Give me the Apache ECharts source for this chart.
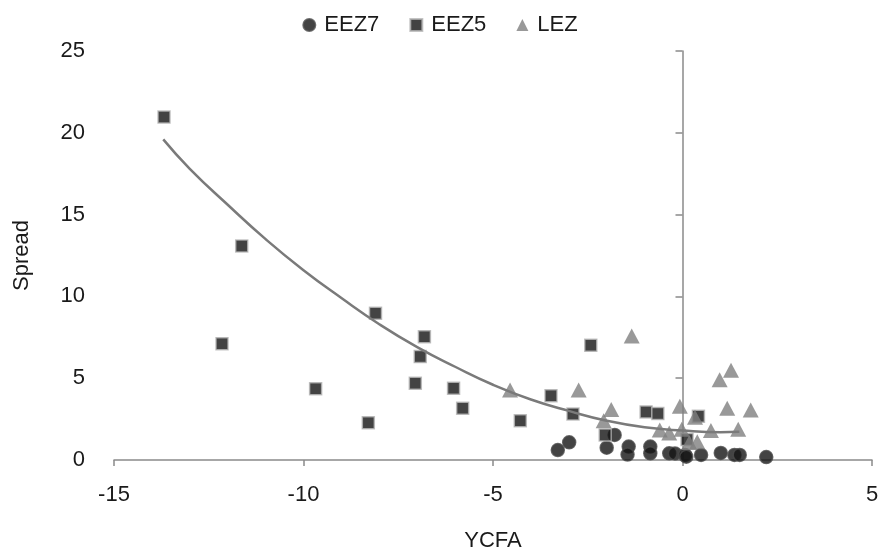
<!DOCTYPE html>
<html>
<head>
<meta charset="utf-8">
<script src="https://cdn.jsdelivr.net/npm/echarts@6/dist/echarts.min.js"></script>
<style>
  html, body { margin: 0; padding: 0; background: #fff; }
  #chart { width: 880px; height: 552px; }
</style>
</head>
<body>
<div id="chart"></div>
<script>
// YCFA vs Spread, by zone
const eez7 = [
  [-3.29, 0.61], [-2.99, 1.08], [-2.00, 0.75], [-1.79, 1.53], [-1.42, 0.82],
  [-1.45, 0.33], [-0.85, 0.82], [-0.85, 0.41], [-0.35, 0.41], [-0.20, 0.40],
  [0.07, 0.31], [0.10, 0.20], [0.49, 0.31], [1.01, 0.43], [1.37, 0.31],
  [1.51, 0.31], [2.21, 0.18]
];
const eez5 = [
  [-13.68, 20.96], [-11.63, 13.08], [-12.15, 7.11], [-9.68, 4.36], [-8.29, 2.28],
  [-8.10, 8.97], [-6.81, 7.54], [-6.92, 6.32], [-7.05, 4.69], [-6.04, 4.38],
  [-5.80, 3.16], [-4.28, 2.40], [-3.47, 3.93], [-2.89, 2.81], [-2.42, 7.01],
  [-2.04, 1.53], [-0.96, 2.94], [-0.65, 2.84], [0.42, 2.67], [0.12, 1.25]
];
const lez = [
  [-4.55, 4.28], [-2.74, 4.28], [-1.34, 7.58], [-1.88, 3.08], [-2.08, 2.40],
  [-0.60, 1.84], [-0.35, 1.65], [-0.07, 3.28], [-0.02, 1.88], [0.33, 2.61],
  [0.18, 1.07], [0.39, 1.12], [0.75, 1.80], [0.98, 4.90], [1.28, 5.48],
  [1.18, 3.16], [1.47, 1.88], [1.80, 3.06]
];
// polynomial trend curve, sampled along x
const trendX = [-13.7, -13, -12, -11, -10, -9, -8, -7, -6, -5, -4, -3, -2, -1, 0, 1, 1.5];
const trendY = [19.6, 17.8, 15.6, 13.5, 11.6, 9.9, 8.3, 6.9, 5.7, 4.6, 3.7, 3.0, 2.4, 2.0, 1.8, 1.7, 1.73];

const xTicks = { min: -15, max: 5, interval: 5 };
const yTicks = { min: 0, max: 25, interval: 5 };

const FONT = 'Liberation Sans, Arial, sans-serif';
const AXIS_GRAY = '#8a8a8a';
const TEXT = '#1a1a1a';

const chart = echarts.init(document.getElementById('chart'), null, { renderer: 'canvas' });

chart.setOption({
  animation: false,
  backgroundColor: '#ffffff',
  textStyle: { fontFamily: FONT },
  legend: {
    top: 9,
    left: 'center',
    itemGap: 30,
    itemWidth: 12,
    itemHeight: 12,
    textStyle: { fontSize: 22, color: TEXT, fontFamily: FONT, padding: [0, 0, 0, 4] },
    data: [
      { name: 'EEZ7', icon: 'circle' },
      { name: 'EEZ5', icon: 'rect' },
      { name: 'LEZ', icon: 'triangle' }
    ]
  },
  grid: { left: 114, right: 8, top: 51, bottom: 92, containLabel: false, outerBoundsMode: 'none' },
  xAxis: {
    type: 'value',
    min: xTicks.min, max: xTicks.max, interval: xTicks.interval,
    name: 'YCFA',
    nameLocation: 'middle',
    nameGap: 70,
    nameTextStyle: { fontSize: 22, color: TEXT },
    axisLine: { onZero: false, lineStyle: { color: AXIS_GRAY, width: 1.5 } },
    axisTick: { show: true, length: 6, lineStyle: { color: AXIS_GRAY, width: 1.5 } },
    axisLabel: { fontSize: 22, color: TEXT, margin: 24 },
    splitLine: { show: false }
  },
  yAxis: [
    {
      // axis line crossing at x = 0
      type: 'value',
      min: yTicks.min, max: yTicks.max, interval: yTicks.interval,
      position: 'left',
      axisLine: { show: true, onZero: true, lineStyle: { color: AXIS_GRAY, width: 1.5 } },
      axisTick: { show: true, length: 7, lineStyle: { color: AXIS_GRAY, width: 1.5 } },
      axisLabel: { show: false },
      splitLine: { show: false }
    },
    {
      // tick labels and title along the left edge
      type: 'value',
      min: yTicks.min, max: yTicks.max, interval: yTicks.interval,
      position: 'left',
      name: 'Spread',
      nameLocation: 'middle',
      nameGap: 81,
      nameRotate: 90,
      nameTextStyle: { fontSize: 22, color: TEXT },
      axisLine: { show: false, onZero: false },
      axisTick: { show: false },
      axisLabel: { fontSize: 22, color: TEXT, margin: 29 },
      splitLine: { show: false }
    }
  ],
  series: [
    {
      name: 'EEZ7',
      type: 'scatter',
      data: eez7,
      symbol: 'circle',
      symbolSize: 13,
      itemStyle: { color: '#141414', borderColor: '#4a4a4a', borderWidth: 1.5 },
      z: 2
    },
    {
      name: 'EEZ5',
      type: 'scatter',
      data: eez5,
      symbol: 'rect',
      symbolSize: 12,
      itemStyle: { color: '#141414', borderColor: '#b5b5b5', borderWidth: 1.5 },
      z: 3
    },
    {
      name: 'LEZ',
      type: 'scatter',
      data: lez,
      symbol: 'triangle',
      symbolSize: [16, 15],
      itemStyle: { color: '#808080' },
      z: 4
    },
    {
      name: 'Trend',
      type: 'line',
      data: trendX.map((x, i) => [x, trendY[i]]),
      smooth: true,
      showSymbol: false,
      symbol: 'none',
      lineStyle: { color: '#7a7a7a', width: 2.5 },
      z: 5
    }
  ]
});
</script>
</body>
</html>
